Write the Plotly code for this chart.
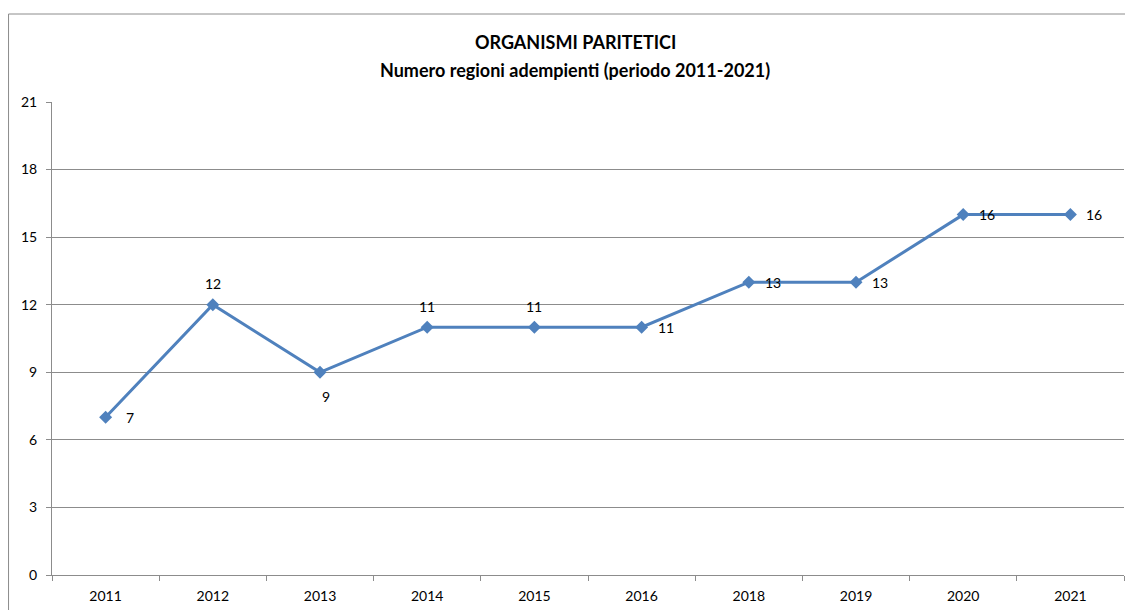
import plotly.graph_objects as go

years = ["2011", "2012", "2013", "2014", "2015", "2016", "2018", "2019", "2020", "2021"]
values = [7, 12, 9, 11, 11, 11, 13, 13, 16, 16]
label_side = ["right", "top", "bottom", "top", "top", "right", "right", "right", "right", "right"]
y_ticks = [0, 3, 6, 9, 12, 15, 18, 21]
title_lines = ["ORGANISMI PARITETICI", "Numero regioni adempienti (periodo 2011-2021)"]

FONT = "Lato, Open Sans, Arial"
W, H = 1125, 602          # page body adds an 8px margin
L, R, T, B = 44, 9, 94, 35
PW, PH = W - L - R, H - T - B

fig = go.Figure()
fig.add_trace(go.Scatter(
    x=years, y=values, mode="lines+markers",
    line=dict(color="#4F81BD", width=3),
    marker=dict(symbol="diamond", size=10, color="#4F81BD"),
    showlegend=False, hoverinfo="x+y",
))

shifts = {"right": (24, 0), "top": (0, 21), "bottom": (6, -24)}
annotations = []
for i, (v, side) in enumerate(zip(values, label_side)):
    dx, dy = shifts[side]
    annotations.append(dict(
        x=i, y=v, xref="x", yref="y", text=str(v), showarrow=False,
        xanchor="center", yanchor="middle", xshift=dx, yshift=dy,
        font=dict(family=FONT, size=14, color="#000000"),
    ))

for line, ypx in zip(title_lines, [34, 62]):
    annotations.append(dict(
        x=(575 - 8 - L) / PW, y=1 + (T - ypx) / PH, xref="paper", yref="paper",
        text="<b>" + line + "</b>", showarrow=False, xanchor="center", yanchor="middle",
        font=dict(family=FONT, size=18, color="#000000"),
    ))

fig.update_layout(
    width=W, height=H,
    margin=dict(l=L, r=R, t=T, b=B),
    paper_bgcolor="white", plot_bgcolor="white",
    annotations=annotations,
    shapes=[dict(type="rect", xref="paper", yref="paper",
                 x0=(0 - L) / PW + 0.0005, x1=1.05, y0=-0.2, y1=1 + (T - 6) / PH,
                 line=dict(color="#8c8c8c", width=1), fillcolor="rgba(0,0,0,0)", layer="below")],
)

fig.update_xaxes(
    type="category", range=[-0.5, len(years) - 0.5], automargin=False,
    tickson="boundaries", ticks="outside", ticklen=5, tickcolor="#8c8c8c",
    showline=True, linecolor="#8c8c8c", linewidth=1, showgrid=False,
    ticklabelstandoff=8,
    tickfont=dict(family=FONT, size=14, color="#000000"),
)
fig.update_yaxes(
    range=[0, 21], tickvals=y_ticks, ticks="outside", ticklen=5, tickcolor="#8c8c8c",
    showline=True, linecolor="#8c8c8c", linewidth=1, automargin=False,
    showgrid=True, gridcolor="#8c8c8c", gridwidth=1, zeroline=False,
    ticklabelstandoff=6,
    tickfont=dict(family=FONT, size=14, color="#000000"),
)

fig.write_html("out.html")
